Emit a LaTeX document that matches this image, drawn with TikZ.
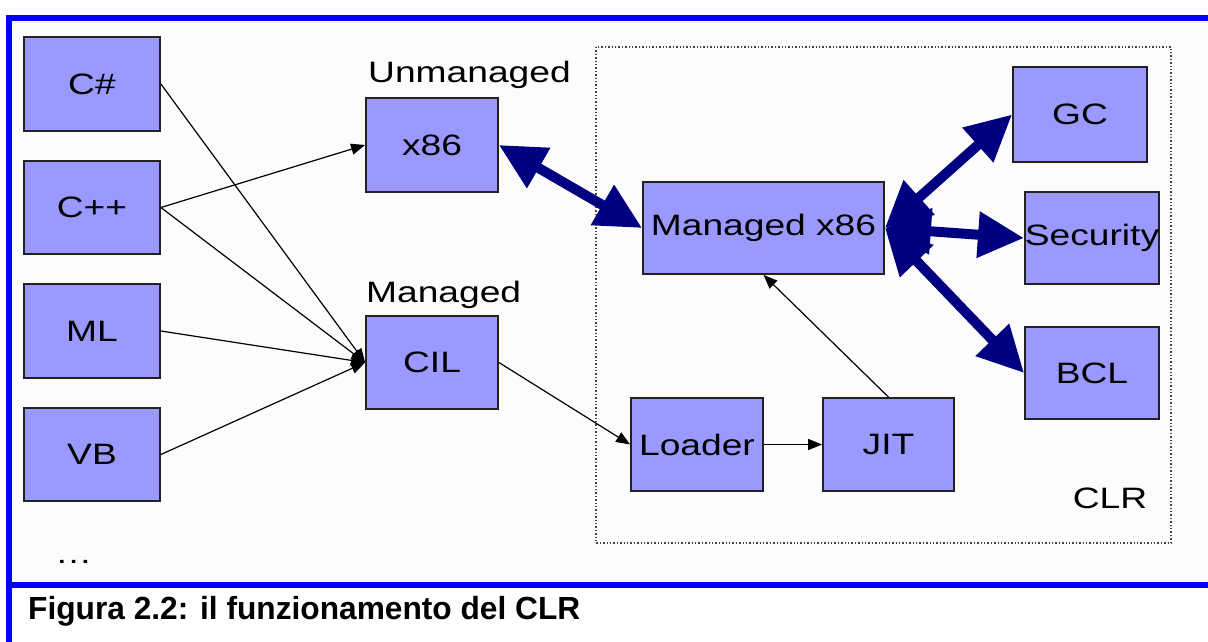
\documentclass[tikz,border=0pt]{standalone}
\usepackage{fontspec}
\setmainfont{Liberation Sans}
\newfontfamily\boxfont[FakeStretch=1.26]{Liberation Sans}
\newfontfamily\capfont[FakeStretch=0.99]{Liberation Sans}
\usetikzlibrary{arrows.meta}
\definecolor{boxblue}{HTML}{9999FF}
\definecolor{boxline}{HTML}{222222}
\definecolor{navyarrow}{HTML}{000080}
\definecolor{frameblue}{HTML}{0000FF}
\definecolor{panelbg}{HTML}{FCFCFC}
\definecolor{dotgray}{HTML}{444444}
\tikzset{
  boxnode/.style={draw=boxline, line width=1.8pt, fill=boxblue, inner sep=0pt,
    font=\boxfont\fontsize{29.5}{34}\selectfont, text=black},
  labelnode/.style={inner sep=0pt, font=\boxfont\fontsize{29.5}{34}\selectfont, text=black},
  thinarrow/.style={draw=black, line width=1.2pt, -{Triangle[length=14pt,width=11pt]}},
  thickarrow/.style={draw=navyarrow, line width=10pt,
    {Triangle[length=46pt,width=44pt]}-{Triangle[length=46pt,width=44pt]}},
  framebar/.style={draw=frameblue, line width=6pt},
}
\begin{document}
\begin{tikzpicture}[x=1pt,y=-1pt]
\useasboundingbox (0,0) rectangle (1208,642);
\fill[white] (0,0) rectangle (1208,642);
\fill[panelbg] (9,18) rectangle (1208,585);
% frame
\draw[framebar] (6,18) -- (1208,18);
\draw[framebar] (6,585) -- (1208,585);
\draw[framebar] (9,15) -- (9,642);
% CLR dotted area
\draw[dotgray, line width=1.4pt, dotted] (596,47) rectangle (1171,543);
% language boxes
\node[boxnode, minimum width=136pt, minimum height=94pt] (cs) at (92,84) {C\#};
\node[boxnode, minimum width=136pt, minimum height=93pt] (cpp) at (92,207.5) {C++};
\node[boxnode, minimum width=136pt, minimum height=94pt] (ml) at (92,331) {ML};
\node[boxnode, minimum width=136pt, minimum height=93pt] (vb) at (92,454.5) {VB};
\node[labelnode, anchor=base west] (dots) at (55,563) {…};
% middle
\node[labelnode, anchor=base west] (unm) at (368,83) {Unmanaged};
\node[boxnode, minimum width=132pt, minimum height=94pt] (x86) at (432,145) {x86};
\node[labelnode, anchor=base west] (man) at (366,302) {Managed};
\node[boxnode, minimum width=132pt, minimum height=93pt] (cil) at (432,362.5) {CIL};
% CLR
\node[boxnode, minimum width=241pt, minimum height=92pt] (mx) at (763.5,228) {Managed x86};
\node[boxnode, minimum width=134pt, minimum height=95pt] (gc) at (1080,114.5) {GC};
\node[boxnode, minimum width=134pt, minimum height=92pt] (sec) at (1092,238) {Security};
\node[boxnode, minimum width=134pt, minimum height=92pt] (bcl) at (1092,373) {BCL};
\node[boxnode, minimum width=132pt, minimum height=93pt] (loader) at (697,444.5) {Loader};
\node[boxnode, minimum width=131pt, minimum height=93pt] (jit) at (888.5,444.5) {JIT};
\node[labelnode] (clr) at (1110,498) {CLR};
% caption
\node[inner sep=0pt, anchor=base west, font=\capfont\bfseries\fontsize{32}{38}\selectfont] (cap) at (28,619) {Figura 2.2: il funzionamento del CLR};
% thin arrows
\draw[thinarrow] (cs.east) -- (cil.west);
\draw[thinarrow] (cpp.east) -- (x86.west);
\draw[thinarrow] (cpp.east) -- (cil.west);
\draw[thinarrow] (ml.east) -- (cil.west);
\draw[thinarrow] (vb.east) -- (cil.west);
\draw[thinarrow] (cil.east) -- (loader.west);
\draw[thinarrow] (loader.east) -- (jit.west);
\draw[thinarrow] (jit.north) -- (mx.south);
% thick arrows
\draw[thickarrow] (x86.east) -- (mx.west);
\draw[thickarrow] (mx.east) -- (gc.west);
\draw[thickarrow] (mx.east) -- (sec.west);
\draw[thickarrow] (mx.east) -- (bcl.west);
\end{tikzpicture}
\end{document}
